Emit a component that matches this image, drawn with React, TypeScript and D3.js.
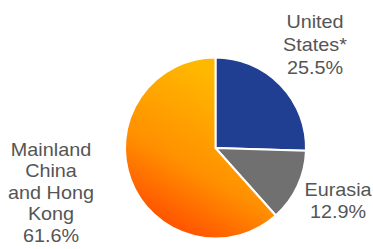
import React from "react";
import * as d3 from "d3";

const categories = ["United States*", "Eurasia", "Mainland China and Hong Kong"];
const values = [25.5, 12.9, 61.6];
const labelLines = [
  ["United", "States*", "25.5%"],
  ["Eurasia", "12.9%"],
  ["Mainland", "China", "and Hong", "Kong", "61.6%"],
];
const colors = ["#213f92", "#707070", "url(#orangeGrad)"];

const W = 373;
const H = 249;
const cx = 215.5;
const cy = 148;
const R = 90.5;

const labelPos = [
  { x: 315, y: 28, dy: 23 },
  { x: 338, y: 196, dy: 22.5 },
  { x: 51, y: 156, dy: 21.5 },
];

export default function App() {
  const pie = d3
    .pie<number>()
    .sort(null)
    .value((d) => d);
  const arcs = pie(values);
  const arcGen = d3.arc<d3.PieArcDatum<number>>().innerRadius(0).outerRadius(R);

  return (
    <svg
      width={W}
      height={H}
      style={{ position: "absolute", left: 0, top: 0, background: "#fff" }}
    >
      <defs>
        <linearGradient
          id="orangeGrad"
          gradientUnits="userSpaceOnUse"
          x1={cx + 15}
          y1={cy - R}
          x2={cx - 75}
          y2={cy + 70}
        >
          <stop offset="0" stopColor="#ffb800" />
          <stop offset="0.5" stopColor="#ff9000" />
          <stop offset="1" stopColor="#ff3300" />
        </linearGradient>
      </defs>
      <g transform={`translate(${cx},${cy})`}>
        {arcs.map((a, i) => (
          <path
            key={categories[i]}
            d={arcGen(a) || ""}
            fill={colors[i]}
            stroke="#fff"
            strokeWidth={2}
            strokeLinejoin="round"
          />
        ))}
      </g>
      {labelLines.map((lines, i) => (
        <g key={i} transform={`translate(${labelPos[i].x},0) scale(1.1,1)`}>
          {lines.map((ln, j) => (
            <text
              key={j}
              x={0}
              y={labelPos[i].y + j * labelPos[i].dy}
              textAnchor="middle"
              fontFamily="Liberation Sans, Arial, sans-serif"
              fontSize={18}
              fill="#555555"
            >
              {ln}
            </text>
          ))}
        </g>
      ))}
    </svg>
  );
}
